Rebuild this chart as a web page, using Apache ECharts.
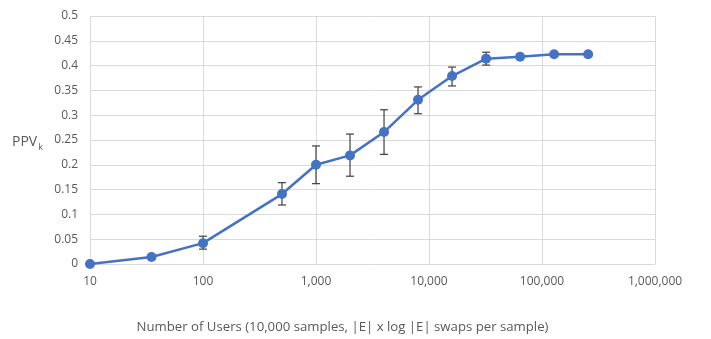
<!DOCTYPE html>
<html>
<head>
<meta charset="utf-8">
<script src="https://cdn.jsdelivr.net/npm/echarts@6/dist/echarts.min.js"></script>
<style>
html, body { margin: 0; padding: 0; background: #fff; }
#main { width: 711px; height: 339px; }
</style>
</head>
<body>
<div id="main"></div>
<script>
// number of users (x, log scale)
var users = [10, 35, 100, 500, 1000, 2000, 4000, 8000, 16000, 32000, 64000, 128000, 256000];
// PPV_k mean
var ppv = [0, 0.014, 0.042, 0.141, 0.200, 0.219, 0.266, 0.331, 0.379, 0.414, 0.418, 0.423, 0.423];
// error bar ends
var errLow = [0, 0.011, 0.030, 0.119, 0.162, 0.177, 0.221, 0.303, 0.359, 0.401, 0.414, 0.420, 0.420];
var errHigh = [0, 0.017, 0.056, 0.164, 0.238, 0.262, 0.311, 0.357, 0.397, 0.427, 0.422, 0.426, 0.426];

var font = 'Open Sans';
var grey = '#595959';

var myChart = echarts.init(document.getElementById('main'));

var lineData = users.map(function (u, i) { return [u, ppv[i]]; });
var errData = users.map(function (u, i) { return [u, errLow[i], errHigh[i]]; });

var option = {
	animation: false,
	grid: { left: 90, right: 56, top: 16, bottom: 73 },
	xAxis: {
		type: 'log',
		logBase: 10,
		min: 10,
		max: 1000000,
		axisLine: { show: true, lineStyle: { color: '#d9d9d9', width: 1 } },
		axisTick: { show: false },
		splitLine: { show: true, lineStyle: { color: '#d9d9d9', width: 1 } },
		minorSplitLine: { show: false },
		axisLabel: {
			color: grey, fontFamily: font, fontSize: 12, margin: 12,
			formatter: function (v) { return Math.round(v).toLocaleString('en-US'); }
		},
		name: 'Number of Users (10,000 samples, |E| x log |E| swaps per sample)',
		nameLocation: 'middle',
		nameGap: 57,
		nameTextStyle: { color: grey, fontFamily: font, fontSize: 13.2, padding: [0, 60, 0, 0] }
	},
	yAxis: {
		type: 'value',
		min: 0,
		max: 0.5,
		interval: 0.05,
		axisLine: { show: false },
		axisTick: { show: false },
		splitLine: { show: true, lineStyle: { color: '#d9d9d9', width: 1 } },
		axisLabel: {
			color: grey, fontFamily: font, fontSize: 12, margin: 12,
			formatter: function (v) { return String(+v.toFixed(2)); }
		}
	},
	graphic: [{
		type: 'text',
		left: 12,
		top: 135,
		style: {
			text: '{a|PPV}{b|k}',
			rich: {
				a: { fontFamily: font, fontSize: 14, fill: grey },
				b: { fontFamily: font, fontSize: 9, fill: grey, padding: [11, 0, 0, 1] }
			}
		}
	}],
	series: [
		{
			type: 'line',
			data: lineData,
			symbol: 'circle',
			symbolSize: 10,
			lineStyle: { color: '#4472c4', width: 2.5 },
			itemStyle: { color: '#4472c4' },
			z: 3
		},
		{
			type: 'custom',
			data: errData,
			z: 2,
			renderItem: function (params, api) {
				var x = api.value(0);
				var lo = api.coord([x, api.value(1)]);
				var hi = api.coord([x, api.value(2)]);
				var cap = 4;
				var st = { stroke: '#404040', lineWidth: 1.2 };
				return {
					type: 'group',
					children: [
						{ type: 'line', shape: { x1: lo[0], y1: lo[1], x2: hi[0], y2: hi[1] }, style: st },
						{ type: 'line', shape: { x1: lo[0] - cap, y1: lo[1], x2: lo[0] + cap, y2: lo[1] }, style: st },
						{ type: 'line', shape: { x1: hi[0] - cap, y1: hi[1], x2: hi[0] + cap, y2: hi[1] }, style: st }
					]
				};
			}
		}
	]
};
myChart.setOption(option);
</script>
</body>
</html>
